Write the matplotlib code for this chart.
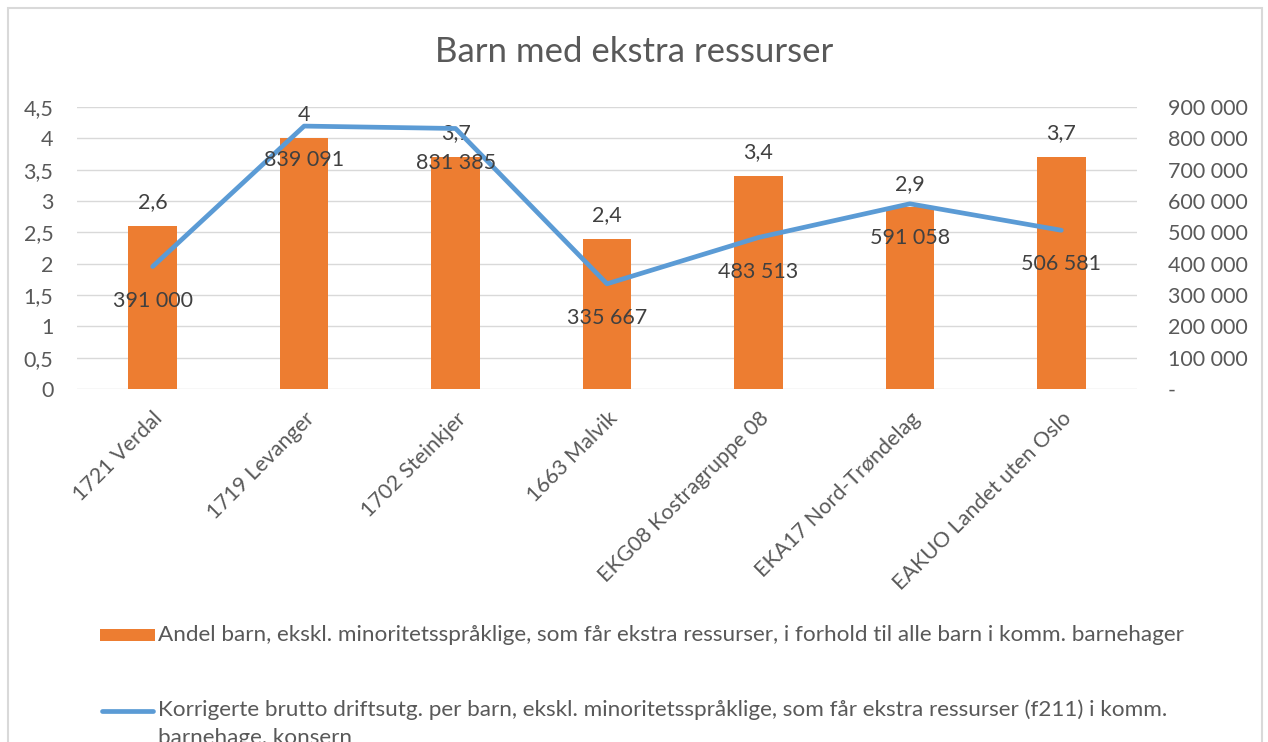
import matplotlib
matplotlib.use("Agg")
import matplotlib.pyplot as plt
from matplotlib.patches import Rectangle
from matplotlib.lines import Line2D
from matplotlib.ticker import FixedLocator, FuncFormatter

categories = ["1721 Verdal", "1719 Levanger", "1702 Steinkjer", "1663 Malvik",
              "EKG08 Kostragruppe 08", "EKA17 Nord-Trøndelag", "EAKUO Landet uten Oslo"]
andel = [2.6, 4.0, 3.7, 2.4, 3.4, 2.9, 3.7]
utgifter = [391000, 839091, 831385, 335667, 483513, 591058, 506581]
left_ticks = [0, 0.5, 1, 1.5, 2, 2.5, 3, 3.5, 4, 4.5]
right_ticks = [0, 100000, 200000, 300000, 400000, 500000, 600000, 700000, 800000, 900000]

title = "Barn med ekstra ressurser"
bar_label = "Andel barn, ekskl. minoritetsspråklige, som får ekstra ressurser, i forhold til alle barn i komm. barnehager"
line_label = "Korrigerte brutto driftsutg. per barn, ekskl. minoritetsspråklige, som får ekstra ressurser (f211) i komm.\nbarnehage, konsern"

FONT = ["Lato", "DejaVu Sans"]
plt.rcParams['font.family'] = FONT
TXT = "#595959"
DARK = "#404040"
ORANGE = "#ED7D31"
BLUE = "#5B9BD5"
FS = 15.5
LFS = 16.2

W, H = 1268, 742
fig = plt.figure(figsize=(W / 100, H / 100), dpi=100)

# outer chart border
fig.add_artist(Rectangle((8 / W, -0.1), (1262 - 8) / W, 1.1 - 8 / H, transform=fig.transFigure,
                         fill=False, edgecolor="#D9D9D9", lw=1.5))

ax_l, ax_r = 77, 1137
ax_t, ax_b = 107, 389
ax = fig.add_axes([ax_l / W, 1 - ax_b / H, (ax_r - ax_l) / W, (ax_b - ax_t) / H])
ax2 = ax.twinx()

x = list(range(len(categories)))
ax.bar(x, andel, width=0.32, color=ORANGE, zorder=2)
ax.set_xlim(-0.5, len(categories) - 0.5)
ax.set_ylim(0, 4.5)
ax.yaxis.set_major_locator(FixedLocator(left_ticks))
ax.yaxis.set_major_formatter(FuncFormatter(lambda v, p: ("%g" % v).replace(".", ",")))
ax.grid(axis="y", color="#D9D9D9", lw=1, zorder=0)
ax.set_axisbelow(True)
for s in ax.spines.values():
    s.set_visible(False)
for s in ax2.spines.values():
    s.set_visible(False)
ax.tick_params(axis="y", length=0, pad=17, labelsize=FS, labelcolor=TXT)
ax.set_xticks(x)
ax.set_xticklabels(categories, rotation=45, ha="right", rotation_mode="anchor",
                   fontsize=FS, color=TXT)
ax.tick_params(axis="x", length=0, pad=14)

ax2.plot(x, utgifter, color=BLUE, lw=3.4, solid_capstyle="round", zorder=3)
ax2.set_ylim(0, 900000)
ax2.yaxis.set_major_locator(FixedLocator(right_ticks))
ax2.yaxis.set_major_formatter(FuncFormatter(
    lambda v, p: "-" if v == 0 else f"{int(v):,}".replace(",", " ")))
ax2.tick_params(axis="y", length=0, pad=22, labelsize=FS, labelcolor=TXT)

for xi, v in zip(x, andel):
    ax.annotate(("%g" % v).replace(".", ","), (xi, v), xytext=(0, 17), textcoords="offset points",
                ha="center", va="center", fontsize=FS, color=DARK, zorder=5)
for xi, v in zip(x, utgifter):
    ax2.annotate(f"{v:,}".replace(",", " "), (xi, v), xytext=(0, -24.5), textcoords="offset points",
                 ha="center", va="center", fontsize=FS, color=DARK, zorder=5)

fig.text(0.5, 1 - 52 / H, title, ha="center", va="center", fontsize=25, color=TXT)

# legend
fig.add_artist(Rectangle((100 / W, 1 - 641 / H), 55 / W, 12 / H, transform=fig.transFigure,
                         facecolor=ORANGE, edgecolor="none"))
fig.text(158 / W, 1 - 635 / H, bar_label, ha="left", va="center", fontsize=LFS, color=TXT)
fig.add_artist(Line2D([102 / W, 153 / W], [1 - 711 / H, 1 - 711 / H], transform=fig.transFigure,
                      color=BLUE, lw=3.4, solid_capstyle="round"))
fig.text(158 / W, 1 - 699 / H, line_label, ha="left", va="top", fontsize=LFS, color=TXT,
         linespacing=1.55, transform=fig.transFigure)

fig.savefig("out.png", dpi=100)
